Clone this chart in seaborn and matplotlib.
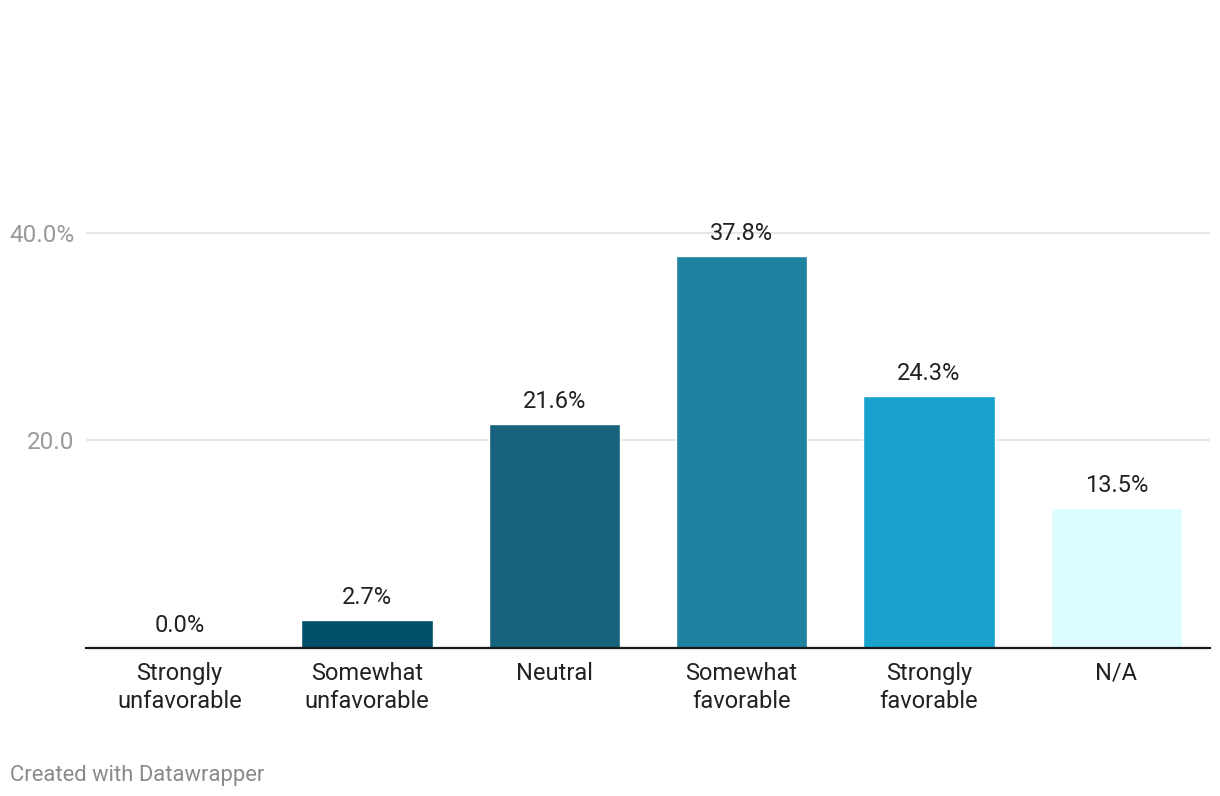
import numpy as np
import pandas as pd
import matplotlib
matplotlib.use("Agg")
import matplotlib.pyplot as plt
import seaborn as sns

categories = ["Strongly\nunfavorable", "Somewhat\nunfavorable", "Neutral",
              "Somewhat\nfavorable", "Strongly\nfavorable", "N/A"]
values = [0.0, 2.7, 21.6, 37.8, 24.3, 13.5]
bar_colors = ["#00506b", "#00506b", "#17627c", "#1f82a1", "#18a1cd", "#dbfdff"]
y_ticks = [20, 40]
y_tick_labels = ["20.0", "40.0%"]

df = pd.DataFrame({"category": categories, "value": values})

sns.set_style("white")
plt.rcParams["font.family"] = ["Roboto", "DejaVu Sans"]

fig = plt.figure(figsize=(12.2, 7.96), dpi=100)
ax = fig.add_axes([0.0705, 0.1859, 0.9213, 0.5867])

sns.barplot(data=df, x="category", y="value", hue="category",
            palette=bar_colors, legend=False, width=0.7, ax=ax,
            saturation=1)

ax.set_xlim(-0.5, 5.5)
ax.set_ylim(0, 45)
ax.set_yticks(y_ticks)
ax.set_yticklabels(y_tick_labels, color="#9a9a9a", fontsize=17.5)
ax.tick_params(axis="y", length=0, pad=8.6)
ax.tick_params(axis="x", length=0, pad=10, labelsize=17, labelcolor="#222222")
for lab in ax.get_xticklabels():
    lab.set_linespacing(1.3)
ax.yaxis.grid(True, color="#e4e4e4", linewidth=1.3)
ax.set_axisbelow(True)
ax.set_xlabel("")
ax.set_ylabel("")

for s in ["top", "right", "left"]:
    ax.spines[s].set_visible(False)
ax.spines["bottom"].set_color("#1a1a1a")
ax.spines["bottom"].set_linewidth(1.6)
ax.spines["bottom"].set_zorder(5)

for i, v in enumerate(values):
    ax.annotate(f"{v:.1f}%", (i, v), xytext=(0, 15.9), textcoords="offset points",
                ha="center", va="center", fontsize=17, color="#222222")

fig.text(10 / 1220, 1 - 775 / 796, "Created with Datawrapper", fontsize=15.8,
         color="#8a8a8a", ha="left", va="center")

fig.savefig("out.png", dpi=100, facecolor="white")
